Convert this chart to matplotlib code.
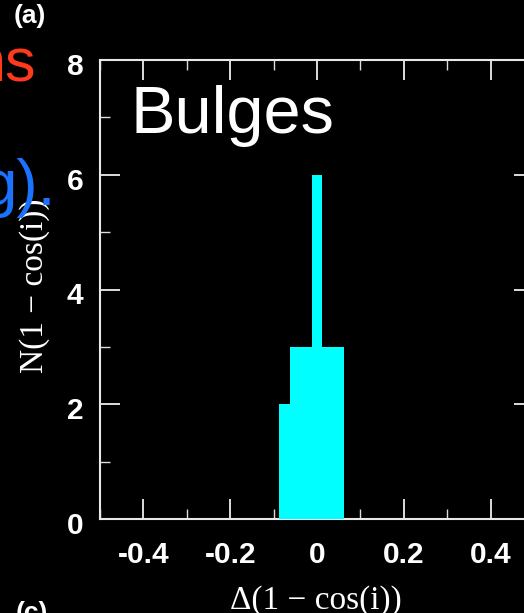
import matplotlib
matplotlib.use("Agg")
import matplotlib.pyplot as plt
import matplotlib.transforms as mtransforms
from matplotlib.ticker import MultipleLocator

# Histogram of Δ(1-cos(i)) for bulges
bin_centers = [-0.075, -0.05, -0.025, 0.0, 0.025, 0.05]
counts = [2, 3, 3, 6, 3, 3]
bin_width = 0.025

x_ticks = [-0.4, -0.2, 0, 0.2, 0.4]
x_tick_labels = ["-0.4", "-0.2", "0", "0.2", "0.4"]
y_ticks = [0, 2, 4, 6, 8]
y_tick_labels = ["0", "2", "4", "6", "8"]

W, H = 524, 613
DPI = 100
plt.rcParams["axes.unicode_minus"] = False

fig = plt.figure(figsize=(W / DPI, H / DPI), dpi=DPI, facecolor="black")
ax = fig.add_axes([100 / W, (H - 519) / H, (534 - 100) / W, (519 - 60) / H])
ax.set_facecolor("black")

ax.bar(bin_centers, counts, width=bin_width, color="#00ffff",
       linewidth=0, align="center", zorder=3)

ax.set_xlim(-0.5, 0.5)
ax.set_ylim(0, 8)

for sp in ax.spines.values():
    sp.set_color("#e8e8e8")
    sp.set_linewidth(1.5)

ax.set_xticks(x_ticks)
ax.set_xticklabels(x_tick_labels)
ax.set_yticks(y_ticks)
ax.set_yticklabels(y_tick_labels)
ax.xaxis.set_minor_locator(MultipleLocator(0.1))
ax.yaxis.set_minor_locator(MultipleLocator(1))

ax.tick_params(which="both", direction="in", top=True, right=True,
               colors="#dddddd", labelcolor="white")
ax.tick_params(which="major", length=14.4, width=1.4)
ax.tick_params(which="minor", length=7.2, width=1.0)
ax.tick_params(axis="x", which="major", pad=16)
ax.tick_params(axis="y", which="major", pad=12)

for lab in ax.get_xticklabels() + ax.get_yticklabels():
    lab.set_fontfamily("Liberation Sans")
    lab.set_fontweight("bold")
    lab.set_fontsize(21.5)

shift = mtransforms.ScaledTranslation(0, -4 / DPI, fig.dpi_scale_trans)
for lab in ax.get_yticklabels():
    lab.set_transform(lab.get_transform() + shift)

fig.text(316 / W, 1 - 601 / H, "Δ(1 − cos(i))", family="Liberation Serif",
         fontsize=24, color="white", ha="center", va="center")
fig.text(35 / W, 1 - 286 / H, "N(1 − cos(i))", family="Liberation Serif",
         fontsize=24, color="white", rotation=90, ha="center", va="center")

ax.text((131 - 100) / 434, 1 - (133 - 60) / 459, "Bulges",
        transform=ax.transAxes, family="Liberation Sans", fontsize=48,
        color="white", ha="left", va="baseline")

# panel letters and text spilling in from the neighbouring panel
fig.text(14 / W, 1 - 4 / H, "(a)", family="Liberation Sans", fontsize=19,
         fontweight="bold", color="white", ha="left", va="top")
fig.text(16 / W, 1 - 601 / H, "(c)", family="Liberation Sans", fontsize=19,
         fontweight="bold", color="white", ha="left", va="top")
fig.text(37 / W, 1 - 82 / H, "ns", family="Liberation Sans", fontsize=44,
         color="#ff3a1c", ha="right", va="baseline")
fig.text(56 / W, 1 - 205 / H, "g).", family="Liberation Sans", fontsize=46,
         color="#1a72ff", ha="right", va="baseline")

fig.savefig("out.png", dpi=DPI, facecolor="black")
